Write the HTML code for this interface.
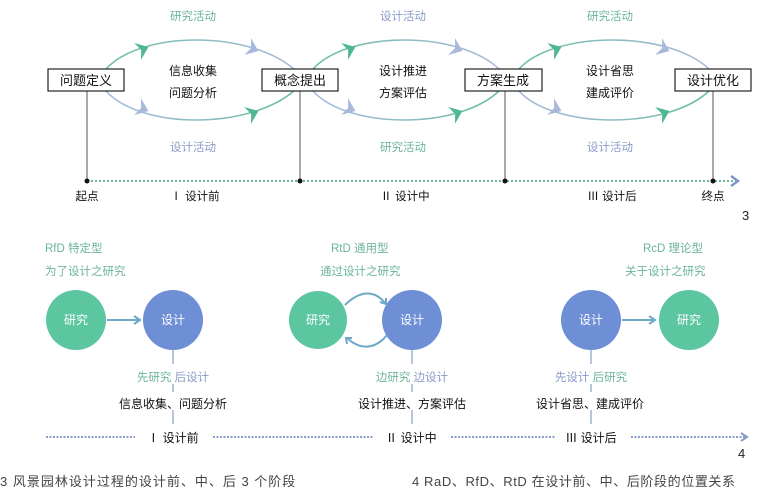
<!DOCTYPE html>
<html><head><meta charset="utf-8"><style>
body{margin:0;background:#fff;}
svg{display:block;font-family:"Liberation Sans","Noto Sans CJK SC",sans-serif;}
</style></head><body>
<svg width="769" height="491" viewBox="0 0 769 491" xmlns="http://www.w3.org/2000/svg">
<defs>
<linearGradient id="gb" x1="0" x2="1" y1="0" y2="0"><stop offset="0" stop-color="#6cc0a2"/><stop offset="1" stop-color="#a9b9dd"/></linearGradient>
<linearGradient id="bg" x1="0" x2="1" y1="0" y2="0"><stop offset="0" stop-color="#a9b9dd"/><stop offset="1" stop-color="#6cc0a2"/></linearGradient>
<g id="chev"><polygon points="-7,-7 2,0 -7,7 -4,0" /></g>
</defs>

<g fill="none" stroke-width="1.6">
<path d="M105,70 C140,30 250,30 295,70" stroke="url(#gb)"/>
<path d="M105,90 C140,130 250,130 295,90" stroke="url(#bg)"/>
<path d="M312,70 C347,30 460,30 500,70" stroke="url(#gb)"/>
<path d="M312,90 C347,130 460,130 500,90" stroke="url(#bg)"/>
<path d="M518,70 C553,30 670,30 710,70" stroke="url(#gb)"/>
<path d="M518,90 C553,130 670,130 710,90" stroke="url(#bg)"/>
</g>
<g fill="#4fb892">
<use href="#chev" transform="translate(146,48) rotate(-22) scale(1.3)"/>
<use href="#chev" transform="translate(256,112) rotate(-22) scale(1.3)"/>
<use href="#chev" transform="translate(353,48) rotate(-22) scale(1.3)"/>
<use href="#chev" transform="translate(460,112) rotate(-22) scale(1.3)"/>
<use href="#chev" transform="translate(559,48) rotate(-22) scale(1.3)"/>
<use href="#chev" transform="translate(667,112) rotate(-22) scale(1.3)"/>
</g>
<g fill="#a9b9dd">
<use href="#chev" transform="translate(146,110) rotate(22) scale(1.3)"/>
<use href="#chev" transform="translate(256,50) rotate(22) scale(1.3)"/>
<use href="#chev" transform="translate(353,110) rotate(22) scale(1.3)"/>
<use href="#chev" transform="translate(460,50) rotate(22) scale(1.3)"/>
<use href="#chev" transform="translate(559,110) rotate(22) scale(1.3)"/>
<use href="#chev" transform="translate(667,50) rotate(22) scale(1.3)"/>
</g>

<g stroke="#555" stroke-width="1">
<line x1="87" y1="91" x2="87" y2="181"/>
<line x1="300" y1="91" x2="300" y2="181"/>
<line x1="505" y1="91" x2="505" y2="181"/>
<line x1="713" y1="91" x2="713" y2="181"/>
</g>
<g fill="#fff" stroke="#222" stroke-width="1.2">
<rect x="48" y="69" width="76" height="22"/>
<rect x="262" y="69" width="76" height="22"/>
<rect x="465" y="69" width="77" height="22"/>
<rect x="675" y="69" width="76" height="22"/>
</g>
<g font-size="13" fill="#111" text-anchor="middle">
<text x="86" y="85">问题定义</text>
<text x="300" y="85">概念提出</text>
<text x="503" y="85">方案生成</text>
<text x="713" y="85">设计优化</text>
</g>
<g font-size="12" fill="#111" text-anchor="middle">
<text x="193" y="75">信息收集</text><text x="193" y="97">问题分析</text>
<text x="403" y="75">设计推进</text><text x="403" y="97">方案评估</text>
<text x="610" y="75">设计省思</text><text x="610" y="97">建成评价</text>
</g>
<g font-size="11.5" text-anchor="middle">
<text x="193" y="20" fill="#6cb59c">研究活动</text>
<text x="193" y="151" fill="#8a9cc8">设计活动</text>
<text x="403" y="20" fill="#8a9cc8">设计活动</text>
<text x="403" y="151" fill="#6cb59c">研究活动</text>
<text x="610" y="20" fill="#6cb59c">研究活动</text>
<text x="610" y="151" fill="#8a9cc8">设计活动</text>
</g>
<line x1="87" y1="181" x2="736" y2="181" stroke="#6cb59c" stroke-width="2" stroke-dasharray="2,2"/>
<polyline points="731,176 738,181 731,186" fill="none" stroke="#7f95cc" stroke-width="2.5"/>
<g fill="#111"><circle cx="87" cy="181" r="2.5"/><circle cx="300" cy="181" r="2.5"/><circle cx="505" cy="181" r="2.5"/><circle cx="713" cy="181" r="2.5"/></g>
<g font-size="11.5" fill="#111" text-anchor="middle">
<text x="87" y="200">起点</text>
<text x="195" y="200">Ⅰ 设计前</text>
<text x="405" y="200">Ⅱ 设计中</text>
<text x="612" y="200">Ⅲ 设计后</text>
<text x="713" y="200">终点</text>
</g>
<text x="742" y="220" font-size="13" fill="#222">3</text>

<g font-size="11.5" fill="#6cb59c">
<text x="45" y="252">RfD  特定型</text>
<text x="45" y="275">为了设计之研究</text>
<text x="331" y="252">RtD  通用型</text>
<text x="320" y="275">通过设计之研究</text>
<text x="643" y="252">RcD  理论型</text>
<text x="625" y="275">关于设计之研究</text>
</g>
<g fill="#5cc6a0"><circle cx="76" cy="320" r="30"/><circle cx="318" cy="320" r="29"/><circle cx="689" cy="320" r="30"/></g>
<g fill="#6e8fd6"><circle cx="173" cy="320" r="30"/><circle cx="412" cy="320" r="30"/><circle cx="591" cy="320" r="30"/></g>
<g font-size="12" fill="#fff" text-anchor="middle">
<text x="76" y="324">研究</text><text x="173" y="324">设计</text>
<text x="318" y="324">研究</text><text x="412" y="324">设计</text>
<text x="591" y="324">设计</text><text x="689" y="324">研究</text>
</g>
<g stroke="#6fa8c8" stroke-width="2" fill="none">
<line x1="107" y1="320" x2="138" y2="320"/>
<polyline points="134,316 140,320 134,324"/>
<line x1="622" y1="320" x2="653" y2="320"/>
<polyline points="649,316 655,320 649,324"/>
<path d="M345,305 C360,290 375,290 385,303"/>
<polyline points="380,302 386,304 386,298"/>
<path d="M387,335 C375,350 360,350 347,338"/>
<polyline points="352,338 346,338 347,344"/>
</g>
<g stroke="#8a9cc8" stroke-width="1.2" fill="none">
<line x1="173" y1="350" x2="173" y2="364"/><line x1="173" y1="384" x2="173" y2="392"/><line x1="173" y1="410" x2="173" y2="424"/>
<line x1="412" y1="350" x2="412" y2="364"/><line x1="412" y1="384" x2="412" y2="392"/><line x1="412" y1="410" x2="412" y2="424"/>
<line x1="591" y1="350" x2="591" y2="364"/><line x1="591" y1="384" x2="591" y2="392"/><line x1="591" y1="410" x2="591" y2="424"/>
</g>
<g font-size="11.5" text-anchor="middle">
<text x="173" y="381"><tspan fill="#6cb59c">先研究</tspan><tspan fill="#8a9cc8"> 后设计</tspan></text>
<text x="412" y="381"><tspan fill="#6cb59c">边研究</tspan><tspan fill="#8a9cc8"> 边设计</tspan></text>
<text x="591" y="381"><tspan fill="#8a9cc8">先设计</tspan><tspan fill="#6cb59c"> 后研究</tspan></text>
</g>
<g font-size="12" fill="#111" text-anchor="middle">
<text x="173" y="408">信息收集、问题分析</text>
<text x="412" y="408">设计推进、方案评估</text>
<text x="590" y="408">设计省思、建成评价</text>
</g>
<g stroke="#8a9cc8" stroke-width="2" stroke-dasharray="2,1.5">
<line x1="46" y1="437" x2="135" y2="437"/>
<line x1="213" y1="437" x2="374" y2="437"/>
<line x1="451" y1="437" x2="556" y2="437"/>
<line x1="631" y1="437" x2="745" y2="437"/>
</g>
<polyline points="741,433 747,437 741,441" fill="none" stroke="#8a9cc8" stroke-width="2"/>
<g font-size="12" fill="#111" text-anchor="middle">
<text x="173" y="442">Ⅰ 设计前</text>
<text x="411" y="442">Ⅱ 设计中</text>
<text x="591" y="442">Ⅲ 设计后</text>
</g>
<text x="738" y="458" font-size="13" fill="#222">4</text>
<text x="0" y="486" font-size="13" fill="#444" letter-spacing="1">3 风景园林设计过程的设计前、中、后 3 个阶段</text>
<text x="412" y="486" font-size="13" fill="#444" letter-spacing="0.6">4 RaD、RfD、RtD 在设计前、中、后阶段的位置关系</text>
</svg>
</body></html>
